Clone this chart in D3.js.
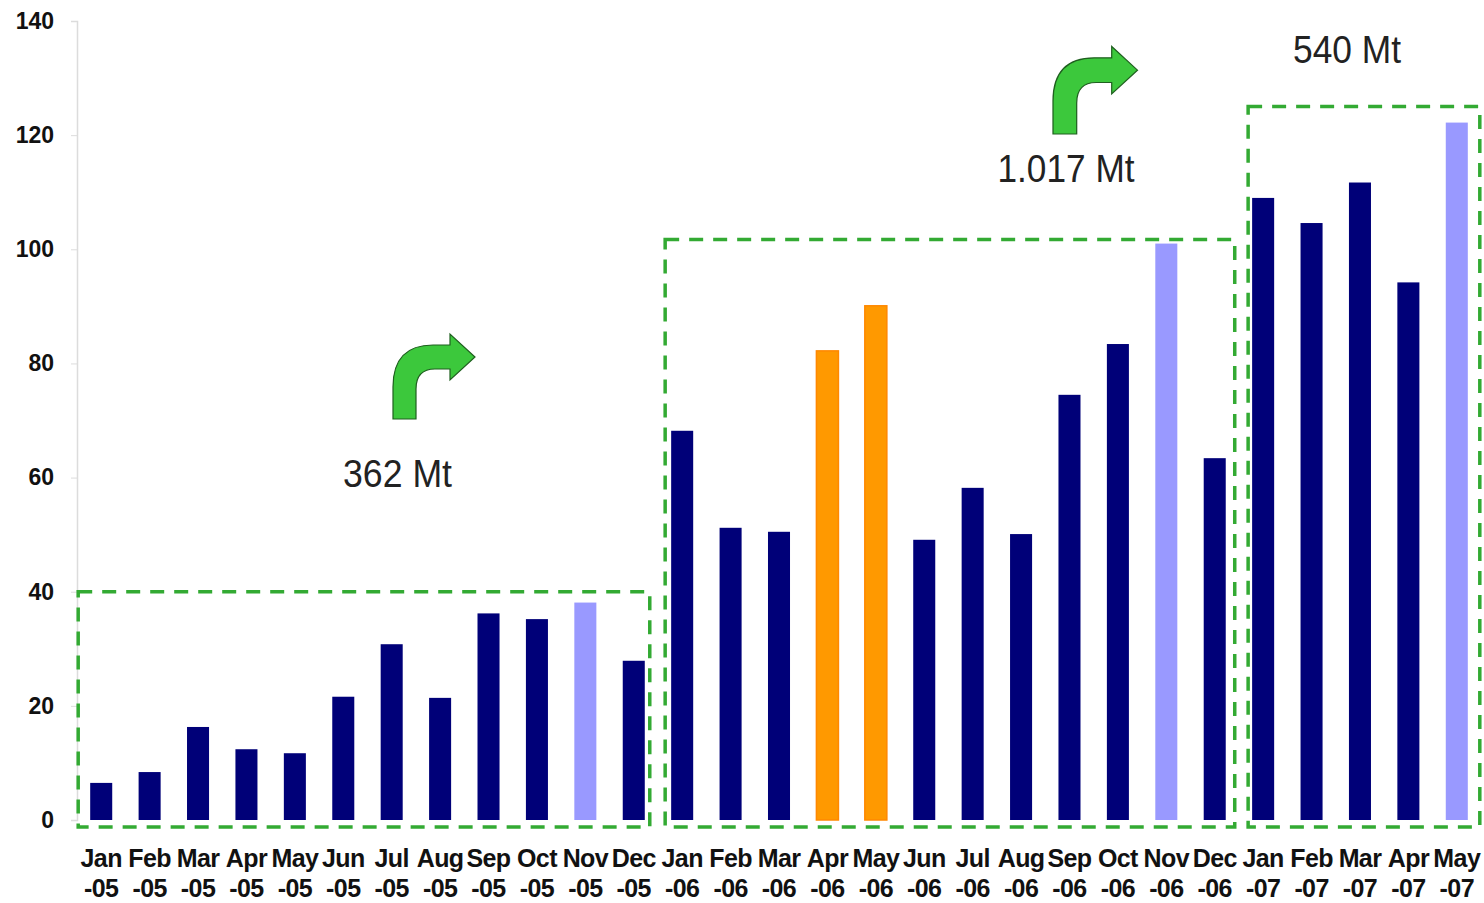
<!DOCTYPE html>
<html>
<head>
<meta charset="utf-8">
<script src="https://cdn.jsdelivr.net/npm/d3@7"></script>
<style>
  html, body { margin: 0; padding: 0; background: #fff; }
  svg { display: block; font-family: "Liberation Sans", Arial, sans-serif; }
</style>
</head>
<body>
<svg id="chart" width="1484" height="903"></svg>
<script>
// ---- data ----
const months = ["Jan-05","Feb-05","Mar-05","Apr-05","May-05","Jun-05","Jul-05","Aug-05","Sep-05","Oct-05","Nov-05","Dec-05",
                "Jan-06","Feb-06","Mar-06","Apr-06","May-06","Jun-06","Jul-06","Aug-06","Sep-06","Oct-06","Nov-06","Dec-06",
                "Jan-07","Feb-07","Mar-07","Apr-07","May-07"];
const values = [6.5, 8.4, 16.3, 12.4, 11.7, 21.6, 30.8, 21.4, 36.2, 35.2, 38.1, 27.9,
                68.2, 51.2, 50.5, 82.2, 90.1, 49.1, 58.2, 50.1, 74.5, 83.4, 101.0, 63.4,
                109.0, 104.6, 111.7, 94.2, 122.2];
// bar kind: n = normal, h = highlighted (light), o = orange
const kinds = ["n","n","n","n","n","n","n","n","n","n","h","n",
               "n","n","n","o","o","n","n","n","n","n","h","n",
               "n","n","n","n","h"];
const yTicks = [0, 20, 40, 60, 80, 100, 120, 140];
const groupStart = ["Jan-05", "Jan-06", "Jan-07"];
const groupEnd   = ["Dec-05", "Dec-06", "May-07"];
const groupTop   = [40, 101.7, 125];
const totals     = ["362 Mt", "1.017 Mt", "540 Mt"];

// ---- layout / style ----
const colors = { n: "#000078", h: "#9999ff", o: "#ff9900" };
const svg = d3.select("#chart");

const x = d3.scaleBand().domain(months).range([77, 1481]).paddingInner(0.545).paddingOuter(0.2725);
const y = d3.scaleLinear().domain([0, 140]).range([820, 21]);

// y axis
const yAxis = svg.append("g").attr("transform", "translate(77,0)")
  .call(d3.axisLeft(y).tickValues(yTicks).tickSize(6).tickPadding(17));
yAxis.select(".domain").attr("stroke", "#dcdcdc").attr("stroke-width", 1.5);
yAxis.selectAll(".tick line").attr("stroke", "#dcdcdc");
yAxis.selectAll(".tick text")
  .attr("font-size", 23).attr("font-weight", "bold").attr("fill", "#111")
  .attr("font-family", "'Liberation Sans', Arial, sans-serif");

// boxes (dashed group frames)
const padL = [12, 6, 4], padR = [5, 9, 12];
const boxBottom = y(0) + 7;
svg.append("g").selectAll("rect").data(groupStart).join("rect")
  .attr("x", (d, i) => x(d) - padL[i])
  .attr("y", (d, i) => y(groupTop[i]))
  .attr("width", (d, i) => x(groupEnd[i]) + x.bandwidth() + padR[i] - (x(d) - padL[i]))
  .attr("height", (d, i) => boxBottom - y(groupTop[i]))
  .attr("fill", "none")
  .attr("stroke", "#33aa33")
  .attr("stroke-width", 3.5)
  .attr("stroke-dasharray", "14,10");

// bars
svg.append("g").selectAll("rect").data(months).join("rect")
  .attr("x", d => x(d))
  .attr("y", (d, i) => y(values[i]))
  .attr("width", x.bandwidth())
  .attr("height", (d, i) => y(0) - y(values[i]))
  .attr("fill", (d, i) => colors[kinds[i]])
  .attr("stroke", (d, i) => kinds[i] === "o" ? "#ff8800" : "none")
  .attr("stroke-width", 1.5);

// x axis labels (two lines)
const xAxis = svg.append("g").attr("transform", "translate(0,820)")
  .call(d3.axisBottom(x).tickSize(0).tickFormat(""));
xAxis.select(".domain").remove();
xAxis.selectAll(".tick").each(function(d) {
  const parts = d.split("-");
  const t = d3.select(this).append("text")
    .attr("text-anchor", "middle")
    .attr("font-size", 25).attr("font-weight", "bold").attr("fill", "#111")
    .attr("letter-spacing", -0.6)
    .attr("font-family", "'Liberation Sans', Arial, sans-serif");
  t.append("tspan").attr("x", 0).attr("y", 47).text(parts[0]);
  t.append("tspan").attr("x", 0).attr("y", 77).text("-" + parts[1]);
});

// arrows (curved, turning right)
const arrowShape = "M0,0 L0,-32 C0,-60 14,-74 40,-74 L57,-74 L57,-85 L82,-62 L57,-39 L57,-50 L42,-50 C30,-50 23,-44 23,-30 L23,0 Z";
const arrows = [{tx: 393, ty: 419, s: 1.0}, {tx: 1053, ty: 134, s: 1.03}];
svg.append("g").selectAll("path").data(arrows).join("path")
  .attr("transform", d => `translate(${d.tx},${d.ty}) scale(${d.s})`)
  .attr("d", arrowShape)
  .attr("fill", "#3cc83c")
  .attr("stroke", "#1f5f1f")
  .attr("stroke-width", 1.2)
  .attr("stroke-linejoin", "miter");

// total annotations
const labelPos = [{cx: 397.5, by: 487, w: 109}, {cx: 1066, by: 182, w: 137}, {cx: 1347, by: 63, w: 108}];
svg.append("g").selectAll("text").data(totals).join("text")
  .attr("x", (d, i) => labelPos[i].cx)
  .attr("y", (d, i) => labelPos[i].by)
  .attr("text-anchor", "middle")
  .attr("font-size", 39)
  .attr("fill", "#222")
  .attr("textLength", (d, i) => labelPos[i].w)
  .attr("lengthAdjust", "spacingAndGlyphs")
  .text(d => d);
</script>
</body>
</html>
